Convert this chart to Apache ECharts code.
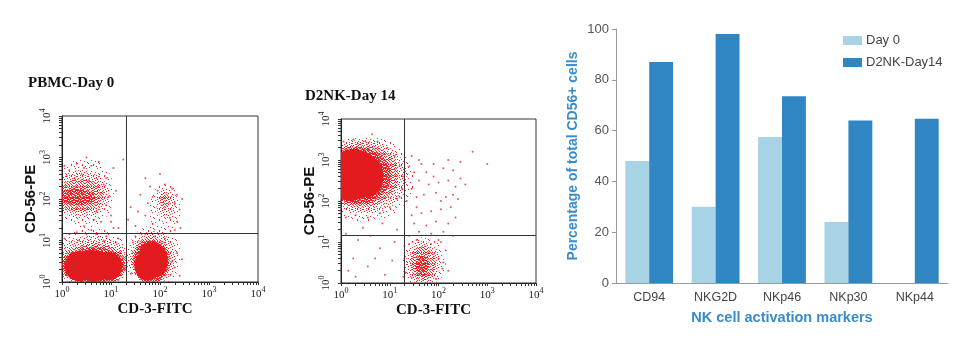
<!DOCTYPE html>
<html>
<head>
<meta charset="utf-8">
<script src="https://cdn.jsdelivr.net/npm/echarts@6/dist/echarts.min.js"></script>
<style>
html,body{margin:0;padding:0;background:#fff;}
#chart{width:973px;height:347px;}
</style>
</head>
<body>
<div id="chart"></div>
<script>
// ---------- DATA (flow plots: log10 fluorescence, decades 0..4) ----------
const decadeTicks = [0, 1, 2, 3, 4];
const pbmcGate = [1.31, 1.18];   // [CD3 gate, CD56 gate]
const d2nkGate = [1.29, 1.17];

// population clouds: [centre CD3, centre CD56, spread CD3, spread CD56, density level 0..4]
const pbmcClouds = [
  [0.62,0.55,0.82,0.74,0],[1.88,0.62,0.55,0.75,0],[0.45,2.15,0.62,0.85,0],[2.10,1.75,0.32,0.62,0],
  [0.62,0.50,0.75,0.62,1],[1.85,0.58,0.47,0.64,1],[0.40,2.12,0.55,0.58,1],[2.12,1.90,0.20,0.36,1],
  [0.65,0.42,0.68,0.52,2],[1.82,0.52,0.40,0.56,2],[0.38,2.08,0.48,0.40,2],[2.10,1.95,0.10,0.18,2],
  [0.64,0.40,0.64,0.44,3],[1.82,0.50,0.36,0.50,3],[0.30,2.05,0.38,0.20,3],
  [0.35,0.38,0.30,0.36,4],[0.65,0.36,0.30,0.36,4],[0.95,0.38,0.28,0.34,4],[0.60,0.55,0.35,0.22,4],
  [1.72,0.40,0.24,0.36,4],[1.92,0.52,0.24,0.40,4],[1.80,0.72,0.22,0.24,4]
];
const pbmcDots = [
  [0.05,2.8],[0.15,2.7],[0.3,2.85],[0.45,2.75],[0.6,2.8],[0.1,2.55],[0.25,2.5],[0.4,2.6],[0.55,2.45],[0.7,2.5],
  [0.85,2.35],[0.8,2.15],[0.95,2.05],[0.9,1.85],[0.7,1.7],[0.65,1.5],[0.8,1.45],[0.45,1.35],[1.0,1.6],[0.9,2.5],
  [1.1,2.2],[0.75,2.9],[1.25,2.95],[0.5,3.0],[1.05,1.3],[0.6,1.25],[0.3,1.2],[0.7,1.15],[0.9,1.1],[0.15,1.15],
  [1.15,1.05],[0.05,1.05],[0.35,1.0],[0.85,1.0],[1.1,0.95],[1.25,0.6],[1.28,0.3],[1.15,0.05],
  [1.4,0.2],[1.45,0.95],[1.5,1.1],[1.7,1.15],[1.9,1.1],[2.1,1.05],[2.25,0.5],[2.3,0.35],[2.35,0.7],[2.4,0.15],
  [2.45,0.55],[1.8,2.3],[1.95,2.2],[2.1,2.35],[2.25,2.25],[2.35,2.1],[1.85,2.05],[2.3,1.9],[2.4,1.75],
  [2.2,1.55],[2.35,1.45],[1.85,1.4],[2.3,1.25],[1.75,1.9],[2.45,2.0],[2.42,1.3],[1.7,1.6],
  [1.55,1.7],[1.6,2.1],[1.5,1.35],[2.0,2.6],[1.7,2.5],[1.35,1.5],[1.4,1.8],[1.15,1.3],[1.0,1.45],[1.05,2.75]
];

const d2nkClouds = [
  [0.50,2.55,1.00,1.05,0],[1.70,0.50,0.45,0.62,0],
  [0.45,2.60,0.90,0.90,1],[1.68,0.50,0.35,0.52,1],
  [0.40,2.62,0.78,0.78,2],[1.68,0.48,0.26,0.42,2],
  [0.36,2.62,0.66,0.70,3],[1.66,0.42,0.14,0.25,3],
  [0.25,2.65,0.50,0.62,4],[0.55,2.60,0.32,0.50,4],[0.20,2.30,0.30,0.30,4],[0.30,2.95,0.36,0.30,4]
];
const d2nkDots = [
  [0.05,3.45],[0.25,3.5],[0.5,3.45],[0.75,3.45],[0.95,3.3],[1.1,3.1],[1.2,2.85],[1.27,2.6],[1.25,2.3],[1.15,2.05],
  [1.0,1.85],[0.8,1.7],[0.55,1.6],[0.3,1.65],[0.1,1.6],[0.64,3.63],[1.2,2.1],
  [0.1,1.2],[0.35,1.05],[0.6,1.15],[0.8,0.85],[0.25,0.6],[0.55,0.4],[0.9,0.2],[0.15,0.3],[1.05,0.55],[0.7,0.6],
  [1.15,1.3],[0.45,1.35],[0.85,1.45],[1.1,1.0],[0.3,0.15],
  [1.3,0.9],[1.4,0.95],[1.55,1.05],[1.85,0.95],[2.0,0.6],[2.08,0.35],[1.95,0.1],[1.3,0.6],[1.32,0.25],
  [2.1,0.5],[2.15,0.8],[1.28,0.15],[2.2,0.3],[1.45,0.12],[2.05,1.0],
  [1.45,3.1],[1.6,3.0],[1.4,2.85],[1.75,2.7],[1.9,2.9],[2.1,2.8],[2.3,2.75],[2.45,2.55],[2.35,2.35],[2.2,2.5],
  [2.0,2.45],[1.8,2.4],[1.6,2.5],[1.45,2.3],[1.55,2.1],[1.7,2.15],[1.95,2.2],[2.15,2.1],[2.4,2.05],[2.25,1.85],
  [2.05,1.8],[1.85,1.75],[1.65,1.7],[1.45,1.65],[1.5,1.45],[1.75,1.4],[1.95,1.5],[2.2,1.45],[2.35,1.6],[2.1,1.25],
  [1.85,1.2],[1.6,1.25],[1.4,1.15],[2.0,1.05],[2.3,1.15],[2.55,2.4],[3.0,2.9],[2.7,3.2],[1.65,2.9],[2.2,3.0],
  [1.35,2.0],[1.9,2.6],[2.05,2.0],[1.55,1.85],[2.45,2.95],[1.5,2.7],[2.3,2.15]
];

// Bar chart
const markers = ['CD94', 'NKG2D', 'NKp46', 'NKp30', 'NKp44'];
const day0 = [48, 30, 57.5, 24, 0];
const day14 = [87, 98, 73.5, 64, 64.7];
const barTicks = [0, 20, 40, 60, 80, 100];

// ---------- STYLE ----------
const SERIF = "'Liberation Serif','Times New Roman',serif";
const SANS = "'Liberation Sans',Arial,sans-serif";
const RED = '#e31b1f';
const BLUE_T = '#3a8cc8';

// stipple textures (fixed pixel layouts in an 11x11 tile)
const tileSparse = [[1,2],[5,0],[9,3],[3,6],[7,7],[0,9],[5,10],[10,8],[8,1]];
const tileMedium = tileSparse.concat([[3,1],[7,4],[1,5],[5,5],[9,6],[2,8],[6,9],[10,0],[4,3],[8,10],[0,0],[6,2],[3,10],[10,5]]);
const tileDense = tileMedium.concat([[0,3],[2,0],[4,1],[6,0],[8,4],[10,2],[1,7],[3,4],[5,8],[7,10],[9,9],[2,5],[4,7],[6,6],[8,7],[0,6],[10,10],[1,10],[7,1],[9,0],[5,3],[3,9],[9,4],[6,4],[4,5]]);
const tileHoles = [[0,1],[1,4],[1,8],[2,2],[2,6],[2,10],[3,0],[3,5],[3,7],[4,2],[4,8],[4,9],[5,1],[5,4],[5,9],[6,1],[6,5],[6,8],
  [7,3],[7,6],[7,8],[8,0],[8,3],[8,6],[8,9],[9,1],[9,5],[9,7],[10,1],[10,4],[10,7],[10,9],[0,5],[0,8]];
function makeTile(pts, holes) {
  const c = document.createElement('canvas');
  c.width = 11; c.height = 11;
  const ctx = c.getContext('2d');
  ctx.fillStyle = 'rgba(227,27,31,0.9)';
  if (holes) {
    ctx.fillRect(0, 0, 11, 11);
    holes.forEach(p => ctx.clearRect(p[0], p[1], 1, 1));
  } else {
    pts.forEach(p => ctx.fillRect(p[0], p[1], 1, 1));
  }
  return { image: c, repeat: 'repeat' };
}
const cloudFills = [makeTile(tileSparse), makeTile(tileMedium), makeTile(tileDense), makeTile(null, tileHoles), RED];

const minorTicks = [];
decadeTicks.slice(0, -1).forEach(d => { for (let m = 1; m < 10; m++) minorTicks.push(d + Math.log10(m)); });
minorTicks.push(decadeTicks[decadeTicks.length - 1]);

function supLabel(v) { return '{b|10}{s|' + v + '}'; }
const labelRich = {
  b: { fontFamily: SERIF, fontSize: 11, color: '#222' },
  s: { fontFamily: SERIF, fontSize: 8, color: '#222', padding: [0, 0, 8, 0] }
};

function flowX(gi) {
  return {
    gridIndex: gi, type: 'value', min: 0, max: 4, interval: 1,
    axisLine: { show: true, lineStyle: { color: '#222', width: 1 } },
    axisTick: { show: true, customValues: minorTicks, length: 3, lineStyle: { color: '#333' } },
    splitLine: { show: false },
    axisLabel: { formatter: supLabel, margin: 4, rich: labelRich },
    name: 'CD-3-FITC', nameLocation: 'middle', nameGap: 20,
    nameTextStyle: { fontFamily: SERIF, fontWeight: 'bold', fontSize: 15, color: '#111', padding: [0, 10, 0, 0] }
  };
}
function flowY(gi) {
  return {
    gridIndex: gi, type: 'value', min: 0, max: 4, interval: 1,
    axisLine: { show: true, lineStyle: { color: '#222', width: 1 } },
    axisTick: { show: true, customValues: minorTicks, length: 3, lineStyle: { color: '#333' } },
    splitLine: { show: false },
    axisLabel: { formatter: supLabel, margin: 7, rotate: 90, rich: labelRich },
    name: 'CD-56-PE', nameLocation: 'middle', nameGap: 23,
    nameTextStyle: { fontFamily: SANS, fontWeight: 'bold', fontSize: 15, color: '#111' }
  };
}
function flowSeries(gi, clouds, dots, gate) {
  const sorted = clouds.slice().sort((a, b) => a[4] - b[4]);
  return [
    { type: 'custom', xAxisIndex: gi, yAxisIndex: gi, data: sorted, clip: true, silent: true, z: 2,
      encode: { x: 0, y: 1 },
      renderItem: function (params, api) {
        const c = api.coord([api.value(0), api.value(1)]);
        const s = api.size([api.value(2), api.value(3)]);
        return { type: 'ellipse', shape: { cx: c[0], cy: c[1], rx: s[0], ry: s[1] },
          style: { fill: cloudFills[api.value(4)] } };
      } },
    { type: 'scatter', xAxisIndex: gi, yAxisIndex: gi, data: dots, symbolSize: 2,
      itemStyle: { color: RED, opacity: 0.75 }, silent: true, z: 4,
      markLine: { silent: true, symbol: 'none', label: { show: false },
        lineStyle: { color: '#333', width: 1, type: 'solid' },
        data: [{ xAxis: gate[0] }, { yAxis: gate[1] }] } }
  ];
}

const chart = echarts.init(document.getElementById('chart'), null, { renderer: 'canvas' });
chart.setOption({
  animation: false,
  backgroundColor: '#fff',
  title: [
    { text: 'PBMC-Day 0', left: 28, top: 76, padding: 0,
      textStyle: { fontFamily: SERIF, fontWeight: 'bold', fontSize: 15, color: '#111' } },
    { text: 'D2NK-Day 14', left: 305, top: 89, padding: 0,
      textStyle: { fontFamily: SERIF, fontWeight: 'bold', fontSize: 15, color: '#111' } }
  ],
  legend: {
    orient: 'vertical', left: 843, top: 34, padding: 0,
    itemWidth: 19, itemHeight: 9, itemGap: 9, icon: 'rect',
    textStyle: { fontFamily: SANS, fontSize: 13, color: '#444', padding: [0, 0, 0, -1] },
    data: ['Day 0', 'D2NK-Day14']
  },
  grid: [
    { left: 62, top: 116, width: 196, height: 166, show: true, borderColor: '#333', borderWidth: 1 },
    { left: 341, top: 119, width: 195, height: 164, show: true, borderColor: '#333', borderWidth: 1 },
    { left: 616, top: 29, width: 332, height: 254 }
  ],
  xAxis: [
    flowX(0), flowX(1),
    { gridIndex: 2, type: 'category', data: markers,
      axisLine: { show: true, lineStyle: { color: '#9a9a9a' } },
      axisTick: { show: false },
      axisLabel: { fontFamily: SANS, fontSize: 12.5, color: '#444', margin: 8 },
      name: 'NK cell activation markers', nameLocation: 'middle', nameGap: 27,
      nameTextStyle: { fontFamily: SANS, fontWeight: 'bold', fontSize: 14.5, color: BLUE_T } }
  ],
  yAxis: [
    flowY(0), flowY(1),
    { gridIndex: 2, type: 'value', min: barTicks[0], max: barTicks[barTicks.length - 1], interval: 20,
      axisLine: { show: true, lineStyle: { color: '#9a9a9a' } },
      axisTick: { show: true, length: 4, lineStyle: { color: '#9a9a9a' } },
      splitLine: { show: false },
      axisLabel: { fontFamily: SANS, fontSize: 13, color: '#555', margin: 7 },
      name: 'Percentage of total CD56+ cells', nameLocation: 'middle', nameGap: 36,
      nameTextStyle: { fontFamily: SANS, fontWeight: 'bold', fontSize: 14, color: BLUE_T } }
  ],
  series: [
    ...flowSeries(0, pbmcClouds, pbmcDots, pbmcGate),
    ...flowSeries(1, d2nkClouds, d2nkDots, d2nkGate),
    { name: 'Day 0', type: 'bar', xAxisIndex: 2, yAxisIndex: 2, data: day0,
      barGap: '0%', barCategoryGap: '28%', itemStyle: { color: '#a7d3e4' } },
    { name: 'D2NK-Day14', type: 'bar', xAxisIndex: 2, yAxisIndex: 2, data: day14,
      barGap: '0%', barCategoryGap: '28%', itemStyle: { color: '#2f86c3' } }
  ]
});
</script>
</body>
</html>
